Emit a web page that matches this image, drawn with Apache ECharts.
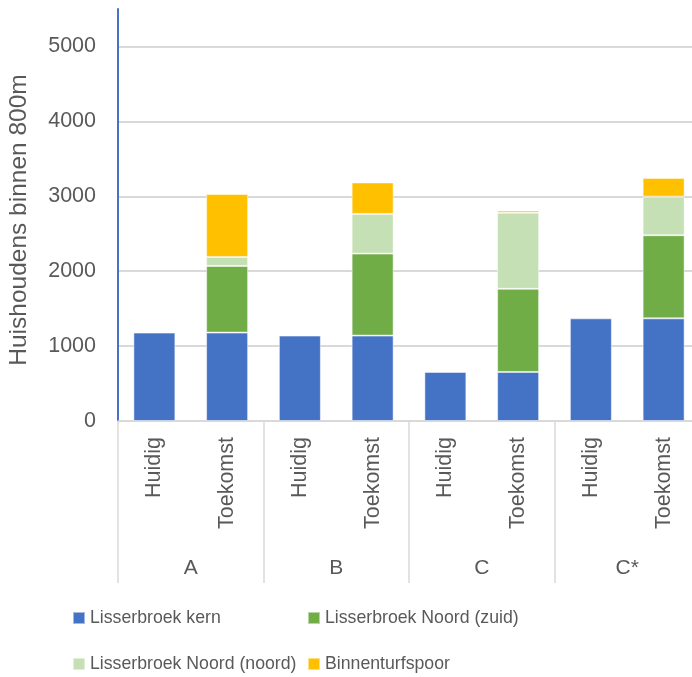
<!DOCTYPE html>
<html>
<head>
<meta charset="utf-8">
<script src="https://cdn.jsdelivr.net/npm/echarts@6/dist/echarts.min.js"></script>
<style>
  html, body { margin: 0; padding: 0; background: #fff; }
  #chart { width: 692px; height: 677px; }
</style>
</head>
<body>
<div id="chart"></div>
<script>
// categorieën
const periods = ['Huidig', 'Toekomst', 'Huidig', 'Toekomst', 'Huidig', 'Toekomst', 'Huidig', 'Toekomst'];
const groups = ['A', 'B', 'C', 'C*'];

// huishoudens per deelgebied
const kern = [1180, 1180, 1140, 1140, 655, 655, 1370, 1370];
const noordZuid = [null, 890, null, 1095, null, 1110, null, 1110];
const noordNoord = [null, 120, null, 530, null, 1015, null, 515];
const binnenturfspoor = [null, 840, null, 420, null, 30, null, 250];

const seriesNames = ['Lisserbroek kern', 'Lisserbroek Noord (zuid)', 'Lisserbroek Noord (noord)', 'Binnenturfspoor'];
const seriesColors = ['#4472C4', '#70AD47', '#C5E0B4', '#FFC000'];
const seriesData = [kern, noordZuid, noordNoord, binnenturfspoor];

const font = "'Liberation Sans', Arial, sans-serif";
const textColor = '#595959';
const gridColor = '#D9D9D9';

const chart = echarts.init(document.getElementById('chart'));

// legenda in twee kolommen
const legendBase = {
  orient: 'vertical',
  top: 602,
  height: 120,
  itemWidth: 12,
  itemHeight: 12,
  itemGap: 24,
  icon: 'rect',
  textStyle: { fontFamily: font, fontSize: 17.7, color: textColor, lineHeight: 22 }
};

const option = {
  animation: false,
  textStyle: { fontFamily: font },
  grid: { left: 118, right: -8, top: 9, bottom: 256, containLabel: false, outerBoundsMode: 'none' },
  legend: [
    Object.assign({}, legendBase, { left: 67, data: [seriesNames[0], seriesNames[2]] }),
    Object.assign({}, legendBase, { left: 302, data: [seriesNames[1], seriesNames[3]] })
  ],
  xAxis: [
    {
      type: 'category',
      data: periods,
      position: 'bottom',
      axisLine: { show: true, lineStyle: { color: gridColor, width: 1.5 } },
      axisTick: { show: false },
      axisLabel: {
        rotate: 90,
        margin: 16,
        fontFamily: font,
        fontSize: 21.5,
        color: textColor,
        interval: 0
      }
    },
    {
      type: 'category',
      data: groups,
      position: 'bottom',
      axisLine: { show: false },
      axisTick: { show: true, length: 162, lineStyle: { color: gridColor, width: 1.5 } },
      axisLabel: {
        margin: 137,
        fontFamily: font,
        fontSize: 21,
        color: textColor,
        interval: 0
      }
    }
  ],
  yAxis: {
    type: 'value',
    min: 0,
    max: 5500,
    interval: 1000,
    name: 'Huishoudens binnen 800m',
    nameLocation: 'middle',
    nameGap: 86,
    nameTextStyle: { fontFamily: font, fontSize: 24.5, color: textColor, padding: [0, 10, 0, 0] },
    axisLine: { show: true, lineStyle: { color: '#4472C4', width: 2 } },
    axisTick: { show: false },
    axisLabel: {
      margin: 22,
      fontFamily: font,
      fontSize: 21.5,
      color: textColor,
      showMaxLabel: false,
      formatter: v => String(v)
    },
    splitLine: { show: true, showMaxLine: false, lineStyle: { color: gridColor, width: 2 } }
  },
  series: seriesNames.map((name, i) => ({
    name: name,
    type: 'bar',
    stack: 'total',
    xAxisIndex: 0,
    barWidth: 42,
    data: seriesData[i],
    itemStyle: { color: seriesColors[i], borderColor: 'rgba(255,255,255,0.5)', borderWidth: 1 }
  }))
};

chart.setOption(option);
</script>
</body>
</html>
